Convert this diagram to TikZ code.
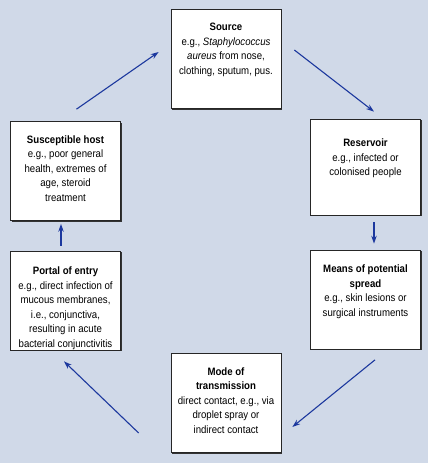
\documentclass[tikz,border=0pt]{standalone}
\usepackage{fontspec}
\setmainfont{Liberation Sans}[FakeStretch=0.9]
\usetikzlibrary{arrows.meta,positioning,shadows}
\definecolor{ChainBg}{RGB}{208,217,232}
\definecolor{ChainBlue}{RGB}{28,56,158}
\begin{document}
\begin{tikzpicture}[x=1pt,y=1pt,
        box/.style={draw=black!85,fill=white,line width=0.7pt,inner sep=0pt,
                    minimum width=110pt,minimum height=99pt,
                    drop shadow={shadow xshift=1.2pt,shadow yshift=-1.2pt,fill=black!80,opacity=1}},
        txt/.style={font=\fontsize{10.7}{14.5}\selectfont,align=center,inner sep=0pt,text=black},
        arr/.style={-{Stealth[length=8pt,width=5.5pt]},line width=1.1pt,color=ChainBlue}
      ]
        \fill[ChainBg] (0,0) rectangle (428,463);
        \useasboundingbox (0,0) rectangle (428,463);
        \node[box] (src) at (226,404) {};
        \node[box,minimum height=96pt] (res) at (365.5,296) {};
        \node[box] (spread) at (365.5,163.5) {};
        \node[box] (mode) at (226,60) {};
        \node[box] (portal) at (65.5,162.5) {};
        \node[box] (host) at (65.5,292) {};
        \node[txt,below=14pt of src.north] (srcT) {\textbf{Source}\\e.g., \textit{Staphylococcus}\\\textit{aureus} from nose,\\clothing, sputum, pus.};
        \node[txt,below=20pt of res.north] (resT) {\textbf{Reservoir}\\e.g., infected or\\colonised people};
        \node[txt,below=15pt of spread.north] (spreadT) {\textbf{Means of potential}\\\textbf{spread}\\e.g., skin lesions or\\surgical instruments};
        \node[txt,below=14pt of mode.north] (modeT) {\textbf{Mode of}\\\textbf{transmission}\\direct contact, e.g., via\\droplet spray or\\indirect contact};
        \node[txt,below=16pt of portal.north] (portalT) {\textbf{Portal of entry}\\e.g., direct infection of\\mucous membranes,\\i.e., conjunctiva,\\resulting in acute\\bacterial conjunctivitis};
        \node[txt,below=14pt of host.north] (hostT) {\textbf{Susceptible host}\\e.g., poor general\\health, extremes of\\age, steroid\\treatment};
        \draw[arr] ([shift={(11pt,12pt)}]host.north)--([shift={(-12pt,7pt)}]src.west);
        \draw[arr] ([shift={(13pt,9pt)}]src.east)--([shift={(8.5pt,7pt)}]res.north);
        \draw[arr] ([shift={(8.5pt,-7pt)}]res.south)--([shift={(8.5pt,6pt)}]spread.north);
        \draw[arr] ([shift={(9.5pt,-10.5pt)}]spread.south)--([shift={(11pt,-24pt)}]mode.east);
        \draw[arr] ([shift={(-32pt,-30pt)}]mode.west)--([shift={(-1.5pt,-11pt)}]portal.south);
        \draw[arr] ([shift={(-4.5pt,5pt)}]portal.north)--([shift={(-4.5pt,-3pt)}]host.south);
      \end{tikzpicture}
\end{document}
